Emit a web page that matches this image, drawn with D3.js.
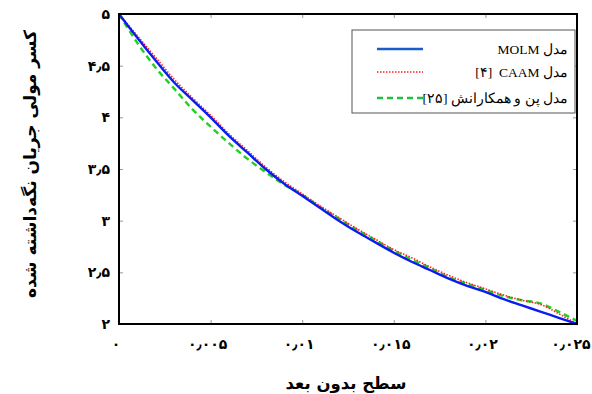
<!DOCTYPE html>
<html>
<head>
<meta charset="utf-8">
<script src="https://cdn.jsdelivr.net/npm/d3@7"></script>
<style>
  body { margin: 0; background: #fff; }
  svg { display: block; }
</style>
</head>
<body>
<div id="chart"></div>
<script>
// x values (dimensionless surface)
const xs = [0, 0.001, 0.002, 0.003, 0.004, 0.005, 0.006, 0.007, 0.008, 0.009, 0.010,
  0.011, 0.012, 0.013, 0.014, 0.015, 0.016, 0.017, 0.018, 0.019, 0.020,
  0.021, 0.022, 0.023, 0.024, 0.025];

const molm = [5.00, 4.77, 4.55, 4.34, 4.17, 4.00, 3.82, 3.66, 3.50, 3.36, 3.24,
  3.12, 3.00, 2.89, 2.79, 2.69, 2.60, 2.52, 2.44, 2.37, 2.31,
  2.24, 2.18, 2.12, 2.06, 2.00];
const caam = [5.00, 4.79, 4.58, 4.37, 4.19, 4.02, 3.84, 3.68, 3.52, 3.38, 3.26,
  3.14, 3.03, 2.92, 2.82, 2.72, 2.64, 2.55, 2.47, 2.40, 2.34,
  2.28, 2.23, 2.19, 2.10, 2.00];
const pan = [5.00, 4.72, 4.48, 4.28, 4.08, 3.91, 3.75, 3.60, 3.47, 3.35, 3.25,
  3.13, 3.02, 2.91, 2.81, 2.71, 2.62, 2.54, 2.45, 2.39, 2.33,
  2.27, 2.23, 2.20, 2.12, 2.03];

const xTicks = [0, 0.005, 0.01, 0.015, 0.02, 0.025];
const xTickLabels = ['۰', '۰٫۰۰۵', '۰٫۰۱', '۰٫۰۱۵', '۰٫۰۲', '۰٫۰۲۵'];
const yTicks = [2, 2.5, 3, 3.5, 4, 4.5, 5];
const yTickLabels = ['۲', '۲٫۵', '۳', '۳٫۵', '۴', '۴٫۵', '۵'];

// RLM keeps the reference number to the left of the model name
const seriesNames = ['مدل MOLM', 'مدل CAAM\u200F  [۴]', 'مدل پن و همکارانش [۲۵]'];
const seriesValues = [molm, caam, pan];

const width = 592, height = 394;
const margin = { top: 14, right: 15, bottom: 70, left: 119 };
const w = width - margin.left - margin.right;
const h = height - margin.top - margin.bottom;

const x = d3.scaleLinear().domain([0, 0.025]).range([0, w]);
const y = d3.scaleLinear().domain([2, 5]).range([h, 0]);

const svg = d3.select('#chart').append('svg')
  .attr('width', width)
  .attr('height', height);

const g = svg.append('g')
  .attr('transform', `translate(${margin.left},${margin.top})`);

const font = 'DejaVu Sans, sans-serif';

// inward ticks on all four sides
const tickColor = '#999';
g.append('g').attr('transform', `translate(0,${h})`)
  .call(d3.axisBottom(x).tickValues(xTicks).tickSizeInner(-4).tickSizeOuter(0).tickFormat(''))
  .call(a => { a.select('.domain').remove(); a.selectAll('line').attr('stroke', tickColor); });
g.append('g')
  .call(d3.axisTop(x).tickValues(xTicks).tickSizeInner(-4).tickSizeOuter(0).tickFormat(''))
  .call(a => { a.select('.domain').remove(); a.selectAll('line').attr('stroke', tickColor); });
g.append('g')
  .call(d3.axisLeft(y).tickValues(yTicks).tickSizeInner(-4).tickSizeOuter(0).tickFormat(''))
  .call(a => { a.select('.domain').remove(); a.selectAll('line').attr('stroke', tickColor); });
g.append('g').attr('transform', `translate(${w},0)`)
  .call(d3.axisRight(y).tickValues(yTicks).tickSizeInner(-4).tickSizeOuter(0).tickFormat(''))
  .call(a => { a.select('.domain').remove(); a.selectAll('line').attr('stroke', tickColor); });

// tick labels
g.selectAll('.xl').data(xTicks).enter().append('text')
  .attr('class', 'xl')
  .attr('x', d => x(d) - 3).attr('y', h + 25)
  .attr('text-anchor', 'middle')
  .style('font-family', font).style('font-weight', 'bold').style('font-size', '14px')
  .text((d, i) => xTickLabels[i])
  .each(function () {
    // keep the last label inside the picture
    const b = this.getBBox();
    const over = margin.left + b.x + b.width - (width - 1);
    if (over > 0) d3.select(this).attr('x', +d3.select(this).attr('x') - over);
  });

g.selectAll('.yl').data(yTicks).enter().append('text')
  .attr('x', -9).attr('y', d => y(d)).attr('dy', '0.35em')
  .attr('text-anchor', 'end')
  .style('font-family', font).style('font-weight', 'bold').style('font-size', '14px')
  .text((d, i) => yTickLabels[i]);

// lines
const line = d3.line()
  .x((d, i) => x(xs[i]))
  .y(d => y(d))
  .curve(d3.curveMonotoneX);

const styles = [
  { color: '#0a1cf0', width: 2.4, dash: null, legendColor: '#1a5cc8' },
  { color: '#ff2020', width: 1.6, dash: '1.5,1.5', legendColor: '#ff2020' },
  { color: '#22d022', width: 2.4, dash: '6,4', legendColor: '#22c040' }
];

// draw green first, then red, then blue on top
[2, 1, 0].forEach(i => {
  g.append('path')
    .datum(seriesValues[i])
    .attr('d', line)
    .attr('fill', 'none')
    .attr('stroke', styles[i].color)
    .attr('stroke-width', styles[i].width)
    .attr('stroke-dasharray', styles[i].dash);
});

// frame
g.append('rect')
  .attr('width', w).attr('height', h)
  .attr('fill', 'none')
  .attr('stroke', '#000')
  .attr('stroke-width', 2);

// legend
const lg = svg.append('g');
lg.append('rect')
  .attr('x', 352).attr('y', 30).attr('width', 223).attr('height', 83)
  .attr('fill', '#fff').attr('stroke', '#555').attr('stroke-width', 1);

const legendY = [49, 72, 98];
seriesNames.forEach((name, i) => {
  lg.append('line')
    .attr('x1', 377).attr('x2', 423)
    .attr('y1', legendY[i]).attr('y2', legendY[i])
    .attr('stroke', styles[i].legendColor)
    .attr('stroke-width', styles[i].width)
    .attr('stroke-dasharray', styles[i].dash);
  lg.append('text')
    .attr('x', 568).attr('y', legendY[i]).attr('dy', '0.35em')
    .attr('direction', 'rtl')
    .attr('text-anchor', 'start')
    .style('white-space', 'pre')
    .style('font-family', 'Liberation Serif, DejaVu Serif, serif')
    .style('font-size', '13.5px')
    .text(name);
});

// axis titles
svg.append('text')
  .attr('x', margin.left + w / 2 - 2).attr('y', 389)
  .attr('text-anchor', 'middle')
  .attr('direction', 'rtl')
  .style('font-family', font).style('font-weight', 'bold').style('font-size', '16.5px')
  .text('سطح بدون بعد');

svg.append('text')
  .attr('transform', 'translate(30,164) rotate(-90)')
  .attr('text-anchor', 'middle')
  .attr('direction', 'rtl')
  .attr('dy', '0.35em')
  .style('font-family', font).style('font-weight', 'bold').style('font-size', '17px')
  .text('کسر مولی جریان نگه‌داشته شده');
</script>
</body>
</html>
